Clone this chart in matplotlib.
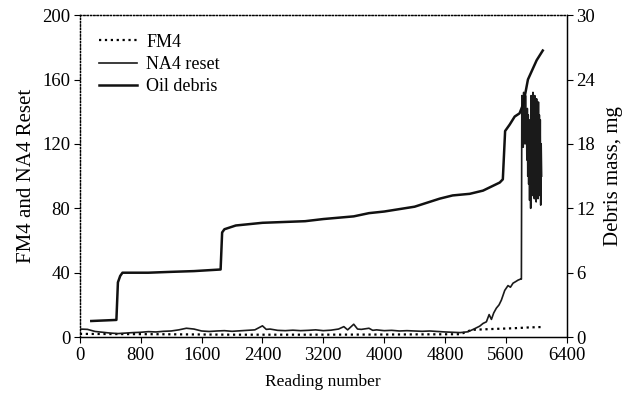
import matplotlib
matplotlib.use("Agg")
import matplotlib.pyplot as plt

# Data

# NA4 reset: noisy baseline, rise near failure, then heavy oscillation
na4_x = [0, 100, 200, 300, 400, 500, 600, 700, 800, 900, 1000, 1100, 1200, 1300,
         1400, 1500, 1600, 1700, 1800, 1900, 2000, 2100, 2200, 2300, 2400, 2450,
         2500, 2600, 2700, 2800, 2900, 3000, 3100, 3200, 3300, 3400, 3470, 3520,
         3600, 3650, 3700, 3800, 3850, 3900, 4000, 4100, 4200, 4300, 4400, 4500,
         4600, 4700, 4800, 4900, 5000, 5100,
         5180, 5256, 5300, 5344, 5380, 5410, 5440, 5475, 5510, 5541, 5585, 5628,
         5660, 5694, 5730, 5760, 5791, 5804,
         5810, 5816, 5822, 5828, 5834, 5840, 5846, 5852, 5858, 5864, 5870, 5876,
         5882, 5888, 5894, 5900, 5906, 5912, 5918, 5926, 5932, 5938, 5944, 5950,
         5956, 5962, 5968, 5974, 5980, 5986, 5992, 5998, 6004, 6010, 6016, 6022,
         6028, 6034, 6040, 6046, 6052, 6058, 6064, 6070]
na4_y = [5.0, 4.8, 3.5, 3.0, 2.5, 2.2, 2.5, 2.8, 3.0, 3.4, 3.2, 3.6, 3.8, 4.5,
         5.5, 5.0, 3.8, 3.5, 3.8, 4.0, 3.6, 3.9, 4.2, 4.5, 7.0, 4.8,
         5.0, 4.2, 4.0, 4.3, 4.0, 4.2, 4.5, 4.0, 4.3, 5.0, 6.5, 4.5,
         8.0, 5.0, 4.8, 5.5, 4.2, 4.5, 4.0, 4.2, 3.8, 4.0, 3.8, 3.6,
         3.8, 3.5, 3.2, 3.0, 2.8, 3.3,
         5.0, 6.8, 8.5, 9.5, 14.0, 11.0, 15.0, 18.0, 20.0, 23.0, 29.0, 32.0,
         31.0, 33.5, 34.5, 35.4, 36.0, 36.0,
         150, 122, 148, 118, 152, 125, 146, 120, 150, 128, 140, 110,
         142, 100, 138, 95, 130, 85, 135, 80, 150, 90, 148, 88,
         152, 92, 145, 86, 150, 90, 143, 84, 148, 92, 140, 86,
         146, 95, 138, 88, 135, 82, 120, 100]

# FM4: low thin dotted line
fm4_x = [0, 1000, 2000, 3000, 4000, 5000, 5150, 5400, 5700, 5900, 6100]
fm4_y = [2.0, 1.8, 1.5, 1.5, 1.6, 1.8, 4.5, 5.0, 5.5, 6.0, 6.3]

# Oil debris mass, mg (right axis): cumulative staircase
oil_x = [150, 480, 500, 530, 560, 900, 1200, 1500, 1850, 1870, 1900, 2050,
         2400, 2960, 3200, 3600, 3800, 4000, 4400, 4730, 4900, 5125, 5300,
         5519, 5560, 5590, 5650, 5716, 5780, 5830, 5890, 6005, 6085]
oil_y = [1.5, 1.6, 5.1, 5.7, 6.0, 6.0, 6.08, 6.15, 6.3, 9.75, 10.05, 10.4,
         10.65, 10.8, 11.0, 11.25, 11.55, 11.7, 12.15, 12.9, 13.2, 13.35, 13.65,
         14.4, 14.7, 19.2, 19.8, 20.55, 20.85, 21.75, 24.0, 25.8, 26.7]

x_ticks = [0, 800, 1600, 2400, 3200, 4000, 4800, 5600, 6400]
left_ticks = [0, 40, 80, 120, 160, 200]
right_ticks = [0, 6, 12, 18, 24, 30]

plt.rcParams["font.family"] = ["Liberation Serif", "DejaVu Serif"]

fig = plt.figure(figsize=(6.29, 3.98), dpi=100)
ax = fig.add_axes([0.127, 0.153, 0.774, 0.809])
ax2 = ax.twinx()

l1, = ax.plot(fm4_x, fm4_y, color="black", linestyle=":", linewidth=1.6, label="FM4")
l2, = ax.plot(na4_x, na4_y, color="#1a1a1a", linewidth=1.2, label="NA4 reset")
l3, = ax2.plot(oil_x, oil_y, color="#111111", linewidth=1.8, label="Oil debris")

ax.set_xlim(0, 6400)
ax.set_ylim(0, 200)
ax2.set_ylim(0, 30)
ax.set_xticks(x_ticks)
ax.set_yticks(left_ticks)
ax2.set_yticks(right_ticks)

ax.set_xlabel("Reading number", fontsize=12.5, labelpad=7)
ax.set_ylabel("FM4 and NA4 Reset", fontsize=15, labelpad=4)
ax2.set_ylabel("Debris mass, mg", fontsize=15, labelpad=6)

for a in (ax, ax2):
    a.tick_params(labelsize=13.5, length=4, width=0.8, pad=3)
    for s in a.spines.values():
        s.set_linewidth(0.9)
ax.spines["top"].set_linestyle(":")
ax.spines["left"].set_linestyle(":")
ax2.spines["top"].set_linestyle(":")
ax2.spines["left"].set_linestyle(":")

leg = ax.legend(handles=[l1, l2, l3], loc="upper left",
                bbox_to_anchor=(0.025, 0.965), frameon=False, fontsize=13,
                handlelength=2.1, handletextpad=0.5, labelspacing=0.3,
                borderaxespad=0)

fig.savefig("out.png", dpi=100)
